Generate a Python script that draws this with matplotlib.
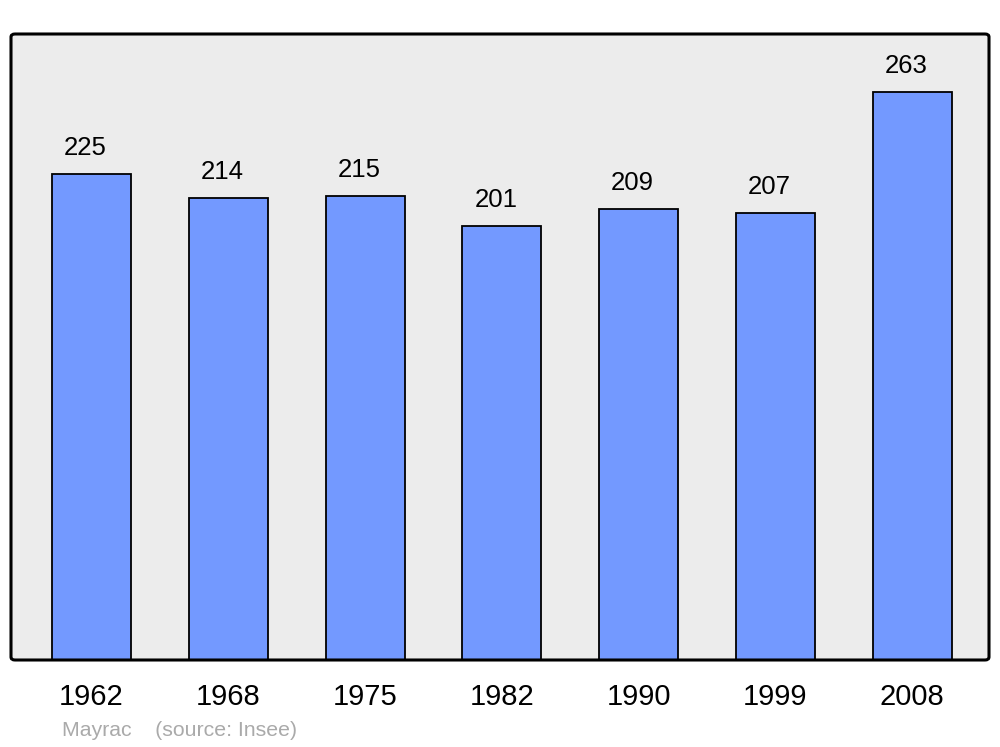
import matplotlib
matplotlib.use("Agg")
import matplotlib.pyplot as plt
from matplotlib.patches import FancyBboxPatch

years = ["1962", "1968", "1975", "1982", "1990", "1999", "2008"]
population = [225, 214, 215, 201, 209, 207, 263]

plt.rcParams['font.family'] = ['Liberation Sans', 'DejaVu Sans']

fig = plt.figure(figsize=(10, 7.47), dpi=100)
ax = fig.add_axes([11/1000, 1 - 660/747, 978/1000, 626/747])
ax.set_facecolor('#ececec')

x = list(range(len(years)))
ax.bar(x, population, width=0.577, color='#7399ff', edgecolor='black', linewidth=1.3, zorder=2)

for xi, v in zip(x, population):
    ax.annotate(str(v), (xi, v), xytext=(-6, 26), textcoords='offset pixels',
                ha='center', va='center', fontsize=18.5, color='black')

ax.set_xlim(-0.588, 6.561)
ax.set_ylim(0, 289.8)
ax.set_yticks([])
ax.set_xticks(x)
ax.set_xticklabels(years, fontsize=21)
ax.tick_params(axis='x', length=0, pad=16.5)
for lbl in ax.get_xticklabels():
    pass
for s in ax.spines.values():
    s.set_visible(False)

frame = FancyBboxPatch((11/1000, 1 - 660/747), 978/1000, 626/747,
                       boxstyle="round,pad=0,rounding_size=0.004",
                       transform=fig.transFigure, facecolor='none',
                       edgecolor='black', linewidth=2.2, zorder=5)
fig.patches.append(frame)

fig.text(62/1000, 1 - 731/747, "Mayrac    (source: Insee)", fontsize=15.3,
         color='#aaaaaa', ha='left', va='center')

fig.savefig("out.png", dpi=100, facecolor='white')
